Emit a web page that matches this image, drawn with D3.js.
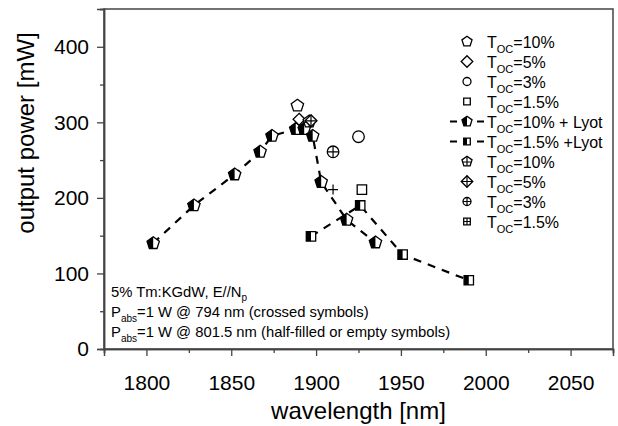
<!DOCTYPE html>
<html>
<head>
    <title>output power vs wavelength</title>
    <script src="https://d3js.org/d3.v7.min.js" type="text/javascript"></script>
    <style type="text/css">
        body { margin: 0; background: #fff; }
        text { font-family: Arial, "Liberation Sans", Helvetica, sans-serif; fill: #000; }
    </style>
</head>
<body>
<div id="chart"></div>
<script type="text/javascript">
    // axis ticks
    var xMajorTicks = [1800, 1850, 1900, 1950, 2000, 2050];
    var xMinorTicks = [1775, 1825, 1875, 1925, 1975, 2025, 2075];
    var yMajorTicks = [0, 100, 200, 300, 400];
    var yMinorTicks = [50, 150, 250, 350, 450];

    // Toc=10% + Lyot (half-filled pentagons, dashed)
    var lyot10Wl = [1804, 1828, 1852, 1867, 1874, 1888, 1893, 1898, 1903, 1918, 1935];
    var lyot10P  = [140, 190, 231, 261, 282, 291, 291, 282, 221, 171, 141];
    // Toc=1.5% + Lyot (half-filled squares, dashed)
    var lyot15Wl = [1897, 1926, 1951, 1990];
    var lyot15P  = [149, 190, 125, 91];

    // pumped at 801.5 nm, empty symbols
    var emptyWl = [1889, 1890, 1925, 1927];
    var emptyP  = [322, 304, 281, 211];
    var emptyShape = ['pentagon', 'diamond', 'circle', 'square'];

    // pumped at 794 nm, crossed symbols
    var crossWl = [1896, 1897, 1910, 1910];
    var crossP  = [301, 302, 261, 211];
    var crossShape = ['pentagon', 'diamond', 'circle', 'plus'];

    var legendLabels = [
        ['10%', ''], ['5%', ''], ['3%', ''], ['1.5%', ''],
        ['10%', ' + Lyot'], ['1.5%', ' +Lyot'],
        ['10%', ''], ['5%', ''], ['3%', ''], ['1.5%', '']
    ];
    var legendShapes = ['pentagon', 'diamond', 'circle', 'square', 'pentagon', 'square',
                        'pentagon', 'diamond', 'circle', 'square'];
    var legendStyles = ['empty', 'empty', 'empty', 'empty', 'half', 'half',
                        'cross', 'cross', 'cross', 'cross'];

    var W = 618, H = 426;
    var svg = d3.select('#chart').append('svg')
        .attr('width', W).attr('height', H);

    var x = d3.scaleLinear().domain([1775, 2075]).range([104, 613]);
    var y = d3.scaleLinear().domain([0, 450]).range([349, 9]);

    // frame
    svg.append('rect')
        .attr('x', x.range()[0]).attr('y', y.range()[1])
        .attr('width', x.range()[1] - x.range()[0])
        .attr('height', y.range()[0] - y.range()[1])
        .attr('fill', 'none').attr('stroke', '#444').attr('stroke-width', 1.5);

    // x axis
    var gx = svg.append('g').attr('transform', 'translate(0,' + y(0) + ')');
    gx.call(d3.axisBottom(x).tickValues(xMajorTicks).tickSize(7).tickPadding(19).tickFormat(d3.format('d')));
    var gxm = svg.append('g').attr('transform', 'translate(0,' + y(0) + ')');
    gxm.call(d3.axisBottom(x).tickValues(xMinorTicks).tickSize(4).tickFormat(''));

    // y axis
    var gy = svg.append('g').attr('transform', 'translate(' + x(1775) + ',0)');
    gy.call(d3.axisLeft(y).tickValues(yMajorTicks).tickSize(7).tickPadding(8));
    var gym = svg.append('g').attr('transform', 'translate(' + x(1775) + ',0)');
    gym.call(d3.axisLeft(y).tickValues(yMinorTicks).tickSize(4).tickFormat(''));

    svg.selectAll('.domain').attr('stroke', '#444').attr('stroke-width', 1.5);
    svg.selectAll('.tick line').attr('stroke', '#444').attr('stroke-width', 1.3);
    svg.selectAll('.tick text').attr('font-size', 21).attr('font-family', 'Arial, "Liberation Sans", sans-serif').attr('fill', '#000');

    // axis titles
    svg.append('text')
        .attr('x', (x.range()[0] + x.range()[1]) / 2).attr('y', 419)
        .attr('text-anchor', 'middle').attr('font-size', 24)
        .text('wavelength [nm]');
    svg.append('text')
        .attr('transform', 'translate(34,' + ((y.range()[0] + y.range()[1]) / 2 - 46) + ') rotate(-90)')
        .attr('text-anchor', 'middle').attr('font-size', 24)
        .text('output power [mW]');

    // marker drawing
    function pentPts(r) {
        var p = [];
        for (var k = 0; k < 5; k++) {
            var a = (-90 + k * 72) * Math.PI / 180;
            p.push([r * Math.cos(a), r * Math.sin(a)]);
        }
        return p;
    }
    function outline(shape, r) {
        if (shape == 'pentagon') return 'M' + pentPts(r).join('L') + 'Z';
        if (shape == 'diamond') return 'M0,' + (-r) + 'L' + r + ',0L0,' + r + 'L' + (-r) + ',0Z';
        if (shape == 'square') return 'M' + (-r) + ',' + (-r) + 'H' + r + 'V' + r + 'H' + (-r) + 'Z';
        if (shape == 'circle') return 'M' + (-r) + ',0A' + r + ',' + r + ' 0 1,0 ' + r + ',0A' + r + ',' + r + ' 0 1,0 ' + (-r) + ',0Z';
        return '';
    }
    function leftHalf(shape, r) {
        if (shape == 'pentagon') {
            var p = pentPts(r);
            return 'M0,' + (-r) + 'L' + p[4] + 'L' + p[3] + 'L0,' + p[3][1] + 'Z';
        }
        if (shape == 'square') return 'M' + (-r) + ',' + (-r) + 'H0V' + r + 'H' + (-r) + 'Z';
        return '';
    }
    function crossLines(shape, r) {
        var bottom = shape == 'pentagon' ? r * 0.81 : r;
        var half = shape == 'pentagon' ? r * 0.8 : r;
        var cy = shape == 'pentagon' ? 0.5 : 0;
        return 'M0,' + (-r) + 'V' + bottom + 'M' + (-half) + ',' + cy + 'H' + half;
    }
    function marker(g, shape, style, cx, cy, r) {
        var m = g.append('g').attr('transform', 'translate(' + cx + ',' + cy + ')');
        if (shape == 'plus') {
            m.append('path').attr('d', 'M0,' + (-r) + 'V' + r + 'M' + (-r) + ',0H' + r)
                .attr('stroke', '#000').attr('stroke-width', 1.2).attr('fill', 'none');
            return;
        }
        m.append('path').attr('d', outline(shape, r))
            .attr('fill', '#fff').attr('stroke', '#000').attr('stroke-width', 1.3);
        if (style == 'half') {
            m.append('path').attr('d', leftHalf(shape, r)).attr('fill', '#000');
        }
        if (style == 'cross') {
            m.append('path').attr('d', crossLines(shape, r))
                .attr('stroke', '#000').attr('stroke-width', 1.2).attr('fill', 'none');
        }
    }
    var sizes = {pentagon: 6.5, diamond: 6, circle: 5.8, square: 4.7, plus: 5};

    // dashed lines
    var line = d3.line().x(function(d) { return x(d[0]); }).y(function(d) { return y(d[1]); });
    [d3.zip(lyot10Wl, lyot10P), d3.zip(lyot15Wl, lyot15P)].forEach(function(pts) {
        svg.append('path').attr('d', line(pts))
            .attr('fill', 'none').attr('stroke', '#000').attr('stroke-width', 2.2)
            .attr('stroke-dasharray', '8,7');
    });

    var gm = svg.append('g');
    lyot10Wl.forEach(function(w, i) { marker(gm, 'pentagon', 'half', x(w), y(lyot10P[i]), sizes.pentagon); });
    lyot15Wl.forEach(function(w, i) { marker(gm, 'square', 'half', x(w), y(lyot15P[i]), sizes.square); });
    emptyWl.forEach(function(w, i) { marker(gm, emptyShape[i], 'empty', x(w), y(emptyP[i]), sizes[emptyShape[i]]); });
    crossWl.forEach(function(w, i) { marker(gm, crossShape[i], 'cross', x(w), y(crossP[i]), sizes[crossShape[i]]); });

    // legend
    var legSizes = {pentagon: 5.3, diamond: 5.8, circle: 4, square: 3.3};
    var lg = svg.append('g');
    legendLabels.forEach(function(l, i) {
        var cy = 41.5 + i * 20;
        var cx = 467;
        if (legendStyles[i] == 'half') {
            lg.append('path').attr('d', 'M450,' + cy + 'H457M477,' + cy + 'H484')
                .attr('stroke', '#000').attr('stroke-width', 2);
        }
        marker(lg, legendShapes[i], legendStyles[i], cx, cy, legSizes[legendShapes[i]]);
        var t = lg.append('text').attr('x', 487).attr('y', cy + 6).attr('font-size', 16);
        t.append('tspan').text('T');
        t.append('tspan').attr('font-size', 11).attr('dy', 5).text('OC');
        t.append('tspan').attr('dy', -5).text('=' + l[0] + l[1]);
    });

    // annotation
    var ann = svg.append('g').attr('font-size', 14.8);
    var a1 = ann.append('text').attr('x', 111).attr('y', 297);
    a1.append('tspan').text('5% Tm:KGdW, E//N');
    a1.append('tspan').attr('font-size', 10).attr('dy', 4).text('p');
    var a2 = ann.append('text').attr('x', 111).attr('y', 317);
    a2.append('tspan').text('P');
    a2.append('tspan').attr('font-size', 10).attr('dy', 5).text('abs');
    a2.append('tspan').attr('dy', -5).text('=1 W @ 794 nm (crossed symbols)');
    var a3 = ann.append('text').attr('x', 111).attr('y', 337);
    a3.append('tspan').text('P');
    a3.append('tspan').attr('font-size', 10).attr('dy', 5).text('abs');
    a3.append('tspan').attr('dy', -5).text('=1 W @ 801.5 nm (half-filled or empty symbols)');
</script>
</body>
</html>
